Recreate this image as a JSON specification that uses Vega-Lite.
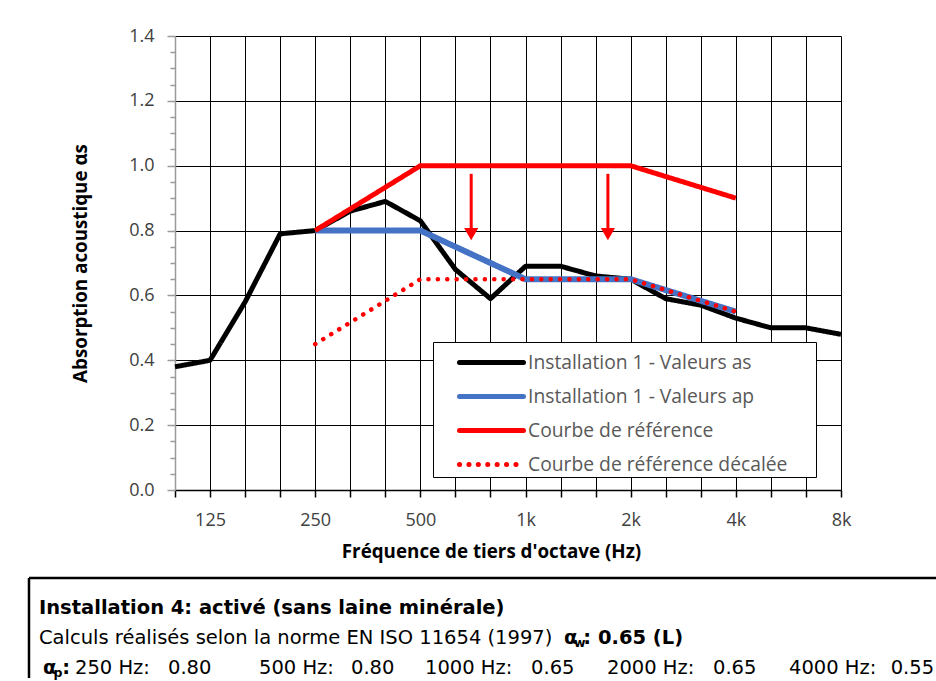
{
  "$schema": "https://vega.github.io/schema/vega-lite/v6.json",
  "background": "white",
  "padding": {"left": 27, "top": 27, "right": 0, "bottom": 0},
  "spacing": 15,
  "datasets": {
    "curves": [
      {"band": "100", "i": 0, "series": "Installation 1 - Valeurs as", "v": 0.38},
      {"band": "125", "i": 1, "series": "Installation 1 - Valeurs as", "v": 0.40},
      {"band": "160", "i": 2, "series": "Installation 1 - Valeurs as", "v": 0.58},
      {"band": "200", "i": 3, "series": "Installation 1 - Valeurs as", "v": 0.79},
      {"band": "250", "i": 4, "series": "Installation 1 - Valeurs as", "v": 0.80},
      {"band": "315", "i": 5, "series": "Installation 1 - Valeurs as", "v": 0.86},
      {"band": "400", "i": 6, "series": "Installation 1 - Valeurs as", "v": 0.89},
      {"band": "500", "i": 7, "series": "Installation 1 - Valeurs as", "v": 0.83},
      {"band": "630", "i": 8, "series": "Installation 1 - Valeurs as", "v": 0.68},
      {"band": "800", "i": 9, "series": "Installation 1 - Valeurs as", "v": 0.59},
      {"band": "1000", "i": 10, "series": "Installation 1 - Valeurs as", "v": 0.69},
      {"band": "1250", "i": 11, "series": "Installation 1 - Valeurs as", "v": 0.69},
      {"band": "1600", "i": 12, "series": "Installation 1 - Valeurs as", "v": 0.66},
      {"band": "2000", "i": 13, "series": "Installation 1 - Valeurs as", "v": 0.65},
      {"band": "2500", "i": 14, "series": "Installation 1 - Valeurs as", "v": 0.59},
      {"band": "3150", "i": 15, "series": "Installation 1 - Valeurs as", "v": 0.57},
      {"band": "4000", "i": 16, "series": "Installation 1 - Valeurs as", "v": 0.53},
      {"band": "5000", "i": 17, "series": "Installation 1 - Valeurs as", "v": 0.50},
      {"band": "6300", "i": 18, "series": "Installation 1 - Valeurs as", "v": 0.50},
      {"band": "8000", "i": 19, "series": "Installation 1 - Valeurs as", "v": 0.48},
      {"band": "250", "i": 4, "series": "Installation 1 - Valeurs ap", "v": 0.80},
      {"band": "500", "i": 7, "series": "Installation 1 - Valeurs ap", "v": 0.80},
      {"band": "1000", "i": 10, "series": "Installation 1 - Valeurs ap", "v": 0.65},
      {"band": "2000", "i": 13, "series": "Installation 1 - Valeurs ap", "v": 0.65},
      {"band": "4000", "i": 16, "series": "Installation 1 - Valeurs ap", "v": 0.55},
      {"band": "250", "i": 4, "series": "Courbe de référence", "v": 0.80},
      {"band": "500", "i": 7, "series": "Courbe de référence", "v": 1.00},
      {"band": "2000", "i": 13, "series": "Courbe de référence", "v": 1.00},
      {"band": "4000", "i": 16, "series": "Courbe de référence", "v": 0.90},
      {"band": "250", "i": 4, "series": "Courbe de référence décalée", "v": 0.45},
      {"band": "500", "i": 7, "series": "Courbe de référence décalée", "v": 0.65},
      {"band": "2000", "i": 13, "series": "Courbe de référence décalée", "v": 0.65},
      {"band": "4000", "i": 16, "series": "Courbe de référence décalée", "v": 0.55}
    ],
    "arrows": [
      {"i": 8.45, "v": 0.975, "tip": 0.80},
      {"i": 12.35, "v": 0.975, "tip": 0.80}
    ],
    "heads": [
      {"i": 8.45, "v": 0.789},
      {"i": 12.35, "v": 0.789}
    ],
    "notes": [
      {"line": 1, "col": 1.1, "txt": "Installation 4: activé (sans laine minérale)", "kind": "bold"},
      {"line": 2, "col": 1.1, "txt": "Calculs réalisés selon la norme EN ISO 11654 (1997)", "kind": "regular"},
      {"line": 2, "col": 58.92, "txt": "α", "kind": "bold"},
      {"line": 2, "col": 60.02, "txt": "w", "kind": "subbold"},
      {"line": 2, "col": 61.05, "txt": ": 0.65 (L)", "kind": "bold"},
      {"line": 3, "col": 1.54, "txt": "α", "kind": "bold"},
      {"line": 3, "col": 2.7, "txt": "p", "kind": "subbold"},
      {"line": 3, "col": 3.65, "txt": ":", "kind": "bold"},
      {"line": 3, "col": 5.07, "txt": "250 Hz:", "kind": "regular"},
      {"line": 3, "col": 15.31, "txt": "0.80", "kind": "regular"},
      {"line": 3, "col": 25.33, "txt": "500 Hz:", "kind": "regular"},
      {"line": 3, "col": 35.46, "txt": "0.80", "kind": "regular"},
      {"line": 3, "col": 43.61, "txt": "1000 Hz:", "kind": "regular"},
      {"line": 3, "col": 55.29, "txt": "0.65", "kind": "regular"},
      {"line": 3, "col": 63.66, "txt": "2000 Hz:", "kind": "regular"},
      {"line": 3, "col": 75.33, "txt": "0.65", "kind": "regular"},
      {"line": 3, "col": 83.7, "txt": "4000 Hz:", "kind": "regular"},
      {"line": 3, "col": 94.9, "txt": "0.55", "kind": "regular"}
    ]
  },
  "vconcat": [
    {
      "width": 666,
      "height": 454,
      "encoding": {
        "x": {
          "field": "i", "type": "quantitative",
          "scale": {"domain": [0, 19], "nice": false, "zero": false},
          "axis": {
            "title": "Fréquence de tiers d'octave (Hz)",
            "titleFont": "Open Sans", "titleFontSize": 18.8, "titleFontWeight": "bold", "titleColor": "black",
            "titlePadding": 13, "titleX": 316,
            "values": [0,1,2,3,4,5,6,7,8,9,10,11,12,13,14,15,16,17,18,19],
            "labelExpr": "['','125','','','250','','','500','','','1k','','','2k','','','4k','','','8k'][round(datum.value)]",
            "labelFont": "Open Sans", "labelFontSize": 18, "labelColor": "#404040",
            "labelPadding": 14, "labelFlush": false, "labelOverlap": false, "labelBound": false,
            "tickSize": 7, "tickColor": "black", "tickWidth": 1.5,
            "domainColor": "black", "domainWidth": 1.5,
            "grid": true, "gridColor": "black", "gridWidth": 1,
            "gridOpacity": {"condition": {"test": "datum.value == 0", "value": 0}, "value": 1}
          }
        },
        "y": {
          "field": "v", "type": "quantitative",
          "scale": {"domain": [0, 1.4], "nice": false},
          "axis": {
            "title": "Absorption acoustique αs",
            "titleFont": "Open Sans", "titleFontSize": 18.8, "titleFontWeight": "bold", "titleColor": "black",
            "titlePadding": 38,
            "values": [0,0.05,0.1,0.15,0.2,0.25,0.3,0.35,0.4,0.45,0.5,0.55,0.6,0.65,0.7,0.75,0.8,0.85,0.9,0.95,1,1.05,1.1,1.15,1.2,1.25,1.3,1.35,1.4],
            "labelExpr": "abs(datum.value*5 - round(datum.value*5)) < 0.01 ? format(datum.value, '.1f') : ''",
            "labelFont": "Open Sans", "labelFontSize": 18, "labelColor": "#404040",
            "labelPadding": 13, "labelOverlap": false,
            "tickSize": {"condition": {"test": "abs(datum.value*5 - round(datum.value*5)) < 0.01", "value": 8}, "value": 5},
            "tickColor": "#9a9a9a", "tickWidth": 1.5,
            "domainColor": "#9a9a9a", "domainWidth": 1.5,
            "grid": true, "gridColor": "black", "gridWidth": 1,
            "gridOpacity": {"condition": {"test": "abs(datum.value*5 - round(datum.value*5)) < 0.01 && datum.value > 0", "value": 1}, "value": 0}
          }
        }
      },
      "layer": [
        {
          "data": {"name": "curves"},
          "encoding": {
            "color": {
              "field": "series", "type": "nominal",
              "scale": {
                "domain": ["Installation 1 - Valeurs as", "Installation 1 - Valeurs ap", "Courbe de référence", "Courbe de référence décalée"],
                "range": ["#000000", "#4472C4", "#FF0000", "#FF0000"]
              },
              "legend": {
                "title": "x", "titleOpacity": 0, "titleOrient": "right", "titleFontSize": 8, "titlePadding": 22,
                "orient": "none", "legendX": 258, "legendY": 306,
                "fillColor": "white", "strokeColor": "black", "padding": 2,
                "labelFont": "Open Sans", "labelFontSize": 19.3, "labelColor": "#595959",
                "labelLimit": 500, "labelOffset": 18,
                "symbolType": "M-2,0H2", "symbolSize": 1024, "symbolStrokeWidth": 5,
                "symbolOffset": 38, "rowPadding": 5,
                "encode": {"symbols": {"update": {"strokeCap": {"value": "round"}}}}
              }
            },
            "strokeDash": {
              "field": "series", "type": "nominal",
              "scale": {
                "domain": ["Installation 1 - Valeurs as", "Installation 1 - Valeurs ap", "Courbe de référence", "Courbe de référence décalée"],
                "range": [[1, 0], [1, 0], [1, 0], [0.1, 9.3]]
              },
              "legend": {
                "title": "x", "titleOpacity": 0, "titleOrient": "right", "titleFontSize": 8, "titlePadding": 22,
                "orient": "none", "legendX": 258, "legendY": 306,
                "fillColor": "white", "strokeColor": "black", "padding": 2,
                "labelFont": "Open Sans", "labelFontSize": 19.3, "labelColor": "#595959",
                "labelLimit": 500, "labelOffset": 18,
                "symbolType": "M-2,0H2", "symbolSize": 1024, "symbolStrokeWidth": 5,
                "symbolOffset": 38, "rowPadding": 5,
                "encode": {"symbols": {"update": {"strokeCap": {"value": "round"}}}}
              }
            }
          },
          "layer": [
            {
              "transform": [{"filter": "datum.series == 'Installation 1 - Valeurs as'"}],
              "mark": {"type": "line", "strokeWidth": 5, "strokeJoin": "round"}
            },
            {
              "transform": [{"filter": "datum.series == 'Installation 1 - Valeurs ap'"}],
              "mark": {"type": "line", "strokeWidth": 6, "strokeJoin": "round"}
            },
            {
              "transform": [{"filter": "datum.series == 'Courbe de référence'"}],
              "mark": {"type": "line", "strokeWidth": 5, "strokeJoin": "round"}
            },
            {
              "transform": [{"filter": "datum.series == 'Courbe de référence décalée'"}],
              "mark": {"type": "line", "strokeWidth": 4.5, "strokeCap": "round"}
            }
          ]
        },
        {
          "data": {"name": "arrows"},
          "mark": {"type": "rule", "color": "#FF0000", "strokeWidth": 3},
          "encoding": {
            "y2": {"field": "tip"}
          }
        },
        {
          "data": {"name": "heads"},
          "mark": {"type": "point", "shape": "triangle-down", "filled": true, "color": "#FF0000", "size": 200, "opacity": 1}
        }
      ]
    },
    {
      "width": 762,
      "height": 100,
      "data": {"name": "notes"},
      "layer": [
        {
          "data": {"values": [{}]},
          "mark": {"type": "rule", "color": "black", "strokeWidth": 2.5},
          "encoding": {
            "x": {"datum": 0, "type": "quantitative", "scale": {"domain": [16.08, 100], "nice": false, "zero": false}, "axis": null},
            "x2": {"datum": 100},
            "y": {"datum": 0, "type": "quantitative", "scale": {"domain": [0, 3.333], "nice": false, "zero": false, "reverse": true}, "axis": null}
          }
        },
        {
          "data": {"values": [{}]},
          "mark": {"type": "rule", "color": "black", "strokeWidth": 2.5},
          "encoding": {
            "x": {"datum": 0, "type": "quantitative", "scale": {"domain": [16.08, 100], "nice": false, "zero": false}, "axis": null},
            "y": {"datum": 0, "type": "quantitative", "scale": {"domain": [0, 3.333], "nice": false, "zero": false, "reverse": true}, "axis": null},
            "y2": {"datum": 3.333}
          }
        },
        {
          "transform": [{"filter": "datum.kind == 'regular'"}],
          "mark": {"type": "text", "align": "left", "baseline": "middle", "font": "DejaVu Sans", "fontSize": 19.5, "color": "black", "dy": 0},
          "encoding": {
            "x": {"field": "col", "type": "quantitative", "scale": {"domain": [16.08, 100], "nice": false, "zero": false}, "axis": null},
            "y": {"field": "line", "type": "quantitative", "scale": {"domain": [0, 3.333], "nice": false, "zero": false, "reverse": true}, "axis": null},
            "text": {"field": "txt"}
          }
        },
        {
          "transform": [{"filter": "datum.kind == 'bold'"}],
          "mark": {"type": "text", "align": "left", "baseline": "middle", "font": "DejaVu Sans", "fontSize": 19.5, "fontWeight": "bold", "color": "black", "dy": 0},
          "encoding": {
            "x": {"field": "col", "type": "quantitative", "scale": {"domain": [16.08, 100], "nice": false, "zero": false}, "axis": null},
            "y": {"field": "line", "type": "quantitative", "scale": {"domain": [0, 3.333], "nice": false, "zero": false, "reverse": true}, "axis": null},
            "text": {"field": "txt"}
          }
        },
        {
          "transform": [{"filter": "datum.kind == 'subbold'"}],
          "mark": {"type": "text", "align": "left", "baseline": "middle", "font": "DejaVu Sans", "fontSize": 12.5, "fontWeight": "bold", "color": "black", "dy": 5},
          "encoding": {
            "x": {"field": "col", "type": "quantitative", "scale": {"domain": [16.08, 100], "nice": false, "zero": false}, "axis": null},
            "y": {"field": "line", "type": "quantitative", "scale": {"domain": [0, 3.333], "nice": false, "zero": false, "reverse": true}, "axis": null},
            "text": {"field": "txt"}
          }
        }
      ]
    }
  ],
  "config": {
    "view": {"stroke": null},
    "font": "Open Sans",
    "axis": {"labelOverlap": false},
    "axisX": {"labelOverlap": false}
  }
}
